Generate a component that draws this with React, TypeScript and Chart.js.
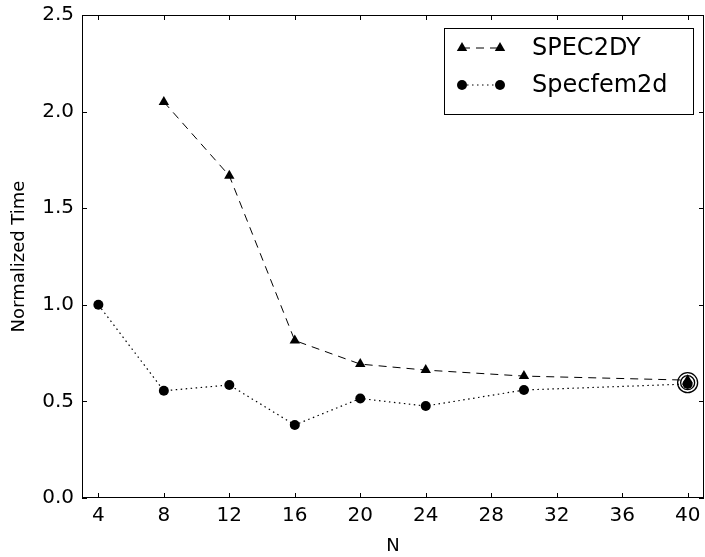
import React, { useEffect, useRef } from "react";
import { Chart, registerables } from "chart.js";

Chart.register(...registerables);

const xTicks = [4, 8, 12, 16, 20, 24, 28, 32, 36, 40];
const yTicks = [0, 0.5, 1.0, 1.5, 2.0, 2.5];
const spec2dyN = [8, 12, 16, 20, 24, 30, 40];
const spec2dyTime = [2.05, 1.668, 0.815, 0.693, 0.662, 0.631, 0.61];
const specfemN = [4, 8, 12, 16, 20, 24, 30, 40];
const specfemTime = [1.0, 0.555, 0.585, 0.378, 0.515, 0.476, 0.559, 0.59];
const highlightN = [40];
const highlightTime = [0.597];
const legendLabels = ["SPEC2DY", "Specfem2d"];

const FONT = "'DejaVu Sans', sans-serif";

const frameAndLegend = {
  id: "frameAndLegend",
  afterDraw(chart: any) {
    const { ctx, chartArea } = chart;
    const { left, right, top, bottom } = chartArea;
    const xs = chart.scales.x;
    const ys = chart.scales.y;
    ctx.save();
    ctx.strokeStyle = "#000";
    ctx.lineWidth = 1;
    ctx.setLineDash([]);
    ctx.strokeRect(left + 0.5, top + 0.5, right - left - 1, bottom - top - 1);
    const tl = 5;
    ctx.beginPath();
    xTicks.forEach((t) => {
      const px = Math.round(xs.getPixelForValue(t)) + 0.5;
      ctx.moveTo(px, bottom);
      ctx.lineTo(px, bottom - tl);
      ctx.moveTo(px, top);
      ctx.lineTo(px, top + tl);
    });
    yTicks.forEach((t) => {
      const py = Math.round(ys.getPixelForValue(t)) + 0.5;
      ctx.moveTo(left, py);
      ctx.lineTo(left + tl, py);
      ctx.moveTo(right, py);
      ctx.lineTo(right - tl, py);
    });
    ctx.stroke();

    // tick labels
    ctx.fillStyle = "#000";
    ctx.font = `20px ${FONT}`;
    ctx.textAlign = "center";
    ctx.textBaseline = "top";
    xTicks.forEach((t) => {
      ctx.fillText(String(t), xs.getPixelForValue(t), bottom + 8);
    });
    ctx.textAlign = "right";
    ctx.textBaseline = "middle";
    yTicks.forEach((t) => {
      ctx.fillText(t.toFixed(1), left - 8, ys.getPixelForValue(t));
    });

    // legend
    const bx = right - 260;
    const by = top + 13;
    const bw = 249;
    const bh = 86;
    ctx.fillStyle = "#fff";
    ctx.fillRect(bx, by, bw, bh);
    ctx.strokeRect(bx + 0.5, by + 0.5, bw, bh);
    const rows = [by + 20, by + 57];
    const m1 = bx + 18;
    const m2 = bx + 56;
    const textX = bx + 88;
    const dashes = [[8, 6], [1.5, 3.5]];
    rows.forEach((ry, i) => {
      ctx.setLineDash(dashes[i]);
      ctx.beginPath();
      ctx.moveTo(m1, ry);
      ctx.lineTo(m2, ry);
      ctx.stroke();
      ctx.setLineDash([]);
      ctx.fillStyle = "#000";
      [m1, m2].forEach((mx) => {
        ctx.beginPath();
        if (i === 0) {
          const r = 6;
          ctx.moveTo(mx, ry - r);
          ctx.lineTo(mx + r * 0.866, ry + r * 0.5);
          ctx.lineTo(mx - r * 0.866, ry + r * 0.5);
          ctx.closePath();
        } else {
          ctx.arc(mx, ry, 5, 0, Math.PI * 2);
        }
        ctx.fill();
      });
      ctx.font = `24px ${FONT}`;
      ctx.textBaseline = "middle";
      ctx.textAlign = "left";
      ctx.fillText(legendLabels[i], textX, ry + 1);
    });
    ctx.restore();
  },
};

export default function App() {
  const ref = useRef<HTMLCanvasElement>(null);
  useEffect(() => {
    document.body.style.margin = "0";
    const chart = new Chart(ref.current as HTMLCanvasElement, {
      type: "scatter",
      data: {
        datasets: [
          {
            label: "SPEC2DY",
            data: spec2dyN.map((n, i) => ({ x: n, y: spec2dyTime[i] })),
            showLine: true,
            borderColor: "#000",
            backgroundColor: "#000",
            borderWidth: 1,
            borderDash: [8, 6],
            pointStyle: "triangle",
            pointRadius: 6,
            pointBorderWidth: 0,
            order: 3,
          },
          {
            label: "Specfem2d",
            data: specfemN.map((n, i) => ({ x: n, y: specfemTime[i] })),
            showLine: true,
            borderColor: "#000",
            backgroundColor: "#000",
            borderWidth: 1.2,
            borderDash: [1.5, 3.5],
            pointStyle: "circle",
            pointRadius: 5,
            pointBorderWidth: 0,
            order: 2,
          },
          {
            label: "ring outer",
            data: highlightN.map((n, i) => ({ x: n, y: highlightTime[i] })),
            showLine: false,
            borderColor: "#000",
            backgroundColor: "rgba(0,0,0,0)",
            pointStyle: "circle",
            pointRadius: 10,
            pointBorderWidth: 1.3,
            order: 1,
          },
          {
            label: "ring inner",
            data: highlightN.map((n, i) => ({ x: n, y: highlightTime[i] })),
            showLine: false,
            borderColor: "#000",
            backgroundColor: "rgba(0,0,0,0)",
            pointStyle: "circle",
            pointRadius: 7,
            pointBorderWidth: 1.3,
            order: 1,
          },
        ],
      },
      options: {
        animation: false,
        responsive: false,
        maintainAspectRatio: false,
        layout: { autoPadding: false, padding: { left: 0, right: 1, top: 15, bottom: 0 } },
        plugins: { legend: { display: false }, tooltip: { enabled: false } },
        scales: {
          x: {
            type: "linear",
            min: 3,
            max: 41,
            afterBuildTicks: (axis: any) => {
              axis.ticks = xTicks.map((v) => ({ value: v }));
            },
            afterFit: (axis: any) => {
              axis.height = 59;
              axis.paddingLeft = 0;
              axis.paddingRight = 0;
            },
            grid: { display: false, drawTicks: false },
            border: { display: false },
            ticks: { display: false },
            title: {
              display: true,
              text: "N",
              color: "#000",
              font: { family: FONT, size: 18 },
              padding: { top: 3, bottom: 0 },
            },
          },
          y: {
            type: "linear",
            min: 0,
            max: 2.5,
            afterBuildTicks: (axis: any) => {
              axis.ticks = yTicks.map((v) => ({ value: v }));
            },
            afterFit: (axis: any) => {
              axis.width = 82;
              axis.paddingTop = 0;
              axis.paddingBottom = 0;
            },
            grid: { display: false, drawTicks: false },
            border: { display: false },
            ticks: { display: false },
            title: {
              display: true,
              text: "Normalized Time",
              color: "#000",
              font: { family: FONT, size: 18 },
              padding: { top: 9, bottom: 0 },
            },
          },
        },
      },
      plugins: [frameAndLegend],
    } as any);
    return () => chart.destroy();
  }, []);
  return (
    <div style={{ width: 705, height: 557, background: "#fff" }}>
      <canvas ref={ref} width={705} height={557} style={{ width: 705, height: 557, display: "block" }} />
    </div>
  );
}
